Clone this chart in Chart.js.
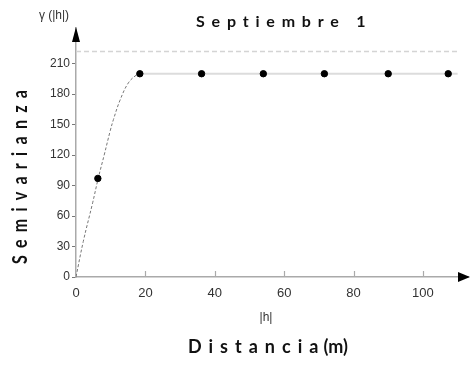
<!DOCTYPE html>
<html>
<head>
<meta charset="utf-8">
<script src="https://cdn.jsdelivr.net/npm/chart.js@4/dist/chart.umd.min.js"></script>
<style>
  html, body { margin: 0; padding: 0; background: #fff; }
  #wrap { width: 473px; height: 366px; }
</style>
</head>
<body>
<div id="wrap"><canvas id="c" width="473" height="366"></canvas></div>
<script>
// Experimental semivariogram (lag distance |h| in m, semivariance)
const lagDistance = [6.3, 18.4, 36.2, 54.0, 71.6, 90.0, 107.3];
const semivariance = [97, 200, 200, 200, 200, 200, 200];

// Fitted model, rising branch up to the range
const modelDistance = [0, 2.1, 4.8, 6.4, 8.2, 9.8, 10.8, 12.7, 15.1, 17.5, 18.4];
const modelValue = [0, 35, 73, 97, 121, 143, 155, 174, 191, 199, 200];

// Sill plateau beyond the range, and the upper reference level
const sillDistance = [18.4, 110];
const sillValue = [200, 200];
const upperDistance = [0, 110];
const upperValue = [222, 222];

const yTickValues = [0, 30, 60, 90, 120, 150, 180, 210];
const xTickValues = [0, 20, 40, 60, 80, 100];

const titleText = 'Septiembre 1';
const yTitleText = 'Semivarianza';
const xTitleWord = 'Distancia';
const xTitleUnit = '(m)';
const yUnitText = 'γ (|h|)';
const xUnitText = '|h|';

const pts = (xs, ys) => xs.map((x, i) => ({ x: x, y: ys[i] }));
const tickFont = "'Liberation Sans Narrow', 'Liberation Sans', Arial, sans-serif";
const titleFont = "Lato, 'Open Sans', sans-serif";

const decorations = {
  id: 'decorations',
  afterDraw(chart) {
    const ctx = chart.ctx;
    const xs = chart.scales.x;
    const area = chart.chartArea;
    ctx.save();
    // small upward tick marks on the distance axis
    ctx.strokeStyle = '#aaa';
    ctx.lineWidth = 1.2;
    xTickValues.forEach(v => {
      if (v === 0) return;
      const px = Math.round(xs.getPixelForValue(v)) + 0.5;
      ctx.beginPath();
      ctx.moveTo(px, area.bottom);
      ctx.lineTo(px, area.bottom - 6);
      ctx.stroke();
    });
    // arrow heads
    ctx.fillStyle = '#000';
    ctx.beginPath();
    ctx.moveTo(area.left, area.top - 1);
    ctx.lineTo(area.left - 4, area.top + 14);
    ctx.lineTo(area.left + 4, area.top + 14);
    ctx.closePath();
    ctx.fill();
    ctx.beginPath();
    ctx.moveTo(area.right + 2, area.bottom);
    ctx.lineTo(area.right - 10, area.bottom - 5);
    ctx.lineTo(area.right - 10, area.bottom + 5);
    ctx.closePath();
    ctx.fill();

    // chart title
    ctx.fillStyle = '#111';
    ctx.textBaseline = 'middle';
    ctx.textAlign = 'left';
    ctx.font = "bold 16px " + titleFont;
    ctx.letterSpacing = '6.8px';
    ctx.fillText(titleText, 196, 22);

    // horizontal axis title: spaced word followed by a tight unit
    ctx.font = "bold 18px " + titleFont;
    ctx.letterSpacing = '7px';
    ctx.fillText(xTitleWord, 188, 347);
    const wWord = ctx.measureText(xTitleWord).width;
    ctx.letterSpacing = '0px';
    ctx.fillText(xTitleUnit, 188 + wWord - 2, 347);

    // vertical axis title, letters stretched across the line
    ctx.save();
    ctx.translate(20, 177);
    ctx.rotate(-Math.PI / 2);
    ctx.scale(1, 1.3);
    ctx.textAlign = 'center';
    ctx.font = "bold 16px " + titleFont;
    ctx.letterSpacing = '7.3px';
    ctx.fillText(yTitleText, 3.6, 0);
    ctx.restore();

    // small variable labels
    ctx.letterSpacing = '0px';
    ctx.textAlign = 'center';
    ctx.fillStyle = '#333';
    ctx.font = "12px " + tickFont;
    ctx.fillText(yUnitText, 54, 16);
    ctx.fillText(xUnitText, 266, 318);
    ctx.restore();
  }
};

new Chart(document.getElementById('c'), {
  type: 'scatter',
  data: {
    datasets: [
      {
        label: 'upper',
        data: pts(upperDistance, upperValue),
        showLine: true,
        borderColor: '#d4d4d4',
        borderWidth: 1.5,
        borderDash: [5, 3],
        pointRadius: 0,
        order: 4
      },
      {
        label: 'sill',
        data: pts(sillDistance, sillValue),
        showLine: true,
        borderColor: '#dcdcdc',
        borderWidth: 2,
        pointRadius: 0,
        order: 3
      },
      {
        label: 'model',
        data: pts(modelDistance, modelValue),
        showLine: true,
        borderColor: '#777',
        borderWidth: 1,
        borderDash: [3, 2],
        tension: 0.4,
        pointRadius: 0,
        order: 2
      },
      {
        label: 'experimental',
        data: pts(lagDistance, semivariance),
        backgroundColor: '#000',
        borderColor: '#000',
        pointRadius: 3.2,
        pointStyle: 'circle',
        order: 1
      }
    ]
  },
  options: {
    responsive: false,
    animation: false,
    layout: { padding: { top: 28, right: 5, left: 0, bottom: 0 } },
    plugins: {
      legend: { display: false },
      tooltip: { enabled: false },
      title: { display: false }
    },
    scales: {
      x: {
        type: 'linear',
        min: 0,
        max: 113,
        afterBuildTicks: s => { s.ticks = xTickValues.map(v => ({ value: v })); },
        afterFit: s => { s.height = 89; },
        border: { display: true, color: '#aaa', width: 1.5 },
        grid: { display: false, drawTicks: false },
        ticks: {
          padding: 9,
          color: '#333',
          font: { family: tickFont, size: 13 }
        }
      },
      y: {
        type: 'linear',
        min: 0,
        max: 245,
        afterBuildTicks: s => { s.ticks = yTickValues.map(v => ({ value: v })); },
        afterFit: s => { s.width = 76; },
        border: { display: true, color: '#aaa', width: 1.5 },
        grid: { drawOnChartArea: false, drawTicks: true, tickLength: 4, color: '#777' },
        ticks: {
          padding: 2,
          color: '#333',
          font: { family: tickFont, size: 12 }
        }
      }
    }
  },
  plugins: [decorations]
});
</script>
</body>
</html>
